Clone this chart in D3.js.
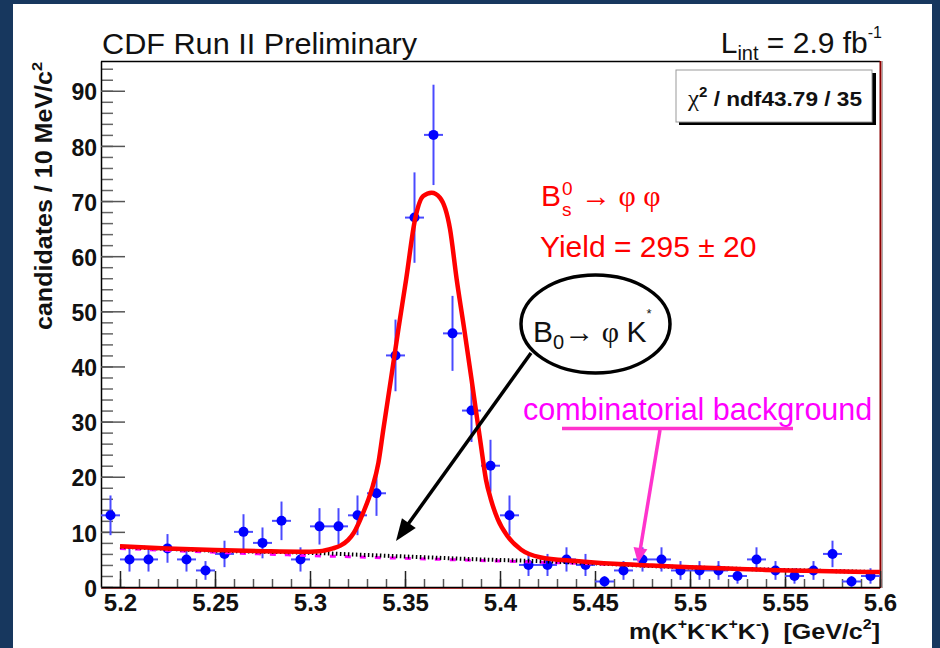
<!DOCTYPE html>
<html><head><meta charset="utf-8">
<script src="https://cdn.jsdelivr.net/npm/d3@7"></script>
<style>body{margin:0;background:#17375e;}svg{display:block}</style>
</head><body>
<svg id="c" width="940" height="648"></svg>
<script>
// ---------- data ----------
const binCenters = [5.195,5.205,5.215,5.225,5.235,5.245,5.255,5.265,5.275,5.285,
  5.295,5.305,5.315,5.325,5.335,5.345,5.355,5.365,5.375,5.385,
  5.395,5.405,5.415,5.425,5.435,5.445,5.455,5.465,5.475,5.485,
  5.495,5.505,5.515,5.525,5.535,5.545,5.555,5.565,5.575,5.585,5.595];
const counts = [13,5,5,7,5,3,6,10,8,12, 5,11,11,13,17,42,67,82,46,32,
  22,13,4,4,5,4,1,3,5,5, 3,3,3,2,5,3,2,3,6,1, 2];
const errors = [3.6,2.2,2.2,2.6,2.2,1.7,2.4,3.2,2.8,3.5, 2.2,3.3,3.3,3.6,4.1,6.5,8.2,9.1,6.8,5.7,
  4.7,3.6,2.0,2.0,2.2,2.0,1.0,1.7,2.2,2.2, 1.7,1.7,1.7,1.4,2.2,1.7,1.4,1.7,2.4,1.0, 1.4];
const binHalfWidth = 0.005;

// total fit (signal + background)
const fitMass  = [5.200,5.225,5.250,5.275,5.295,5.305,5.312,5.316,5.320,5.323,5.328,5.3325,5.336,5.3386,5.3426,5.3465,5.3506,5.3553,5.3596,5.364,5.3684,5.3737,5.3772,5.3812,5.385,5.3875,5.3900,5.3926,5.3952,5.3988,5.4040,5.4110,5.421,5.440,5.460,5.480,5.500,5.520,5.540,5.560,5.580,5.600];
const fitValue = [7.4,7.0,6.7,6.5,6.4,6.5,7.0,7.5,8.5,9.8,13.5,17.7,22.5,28.6,37.7,46.7,55.8,66.7,70.9,71.5,70.6,64.9,55.8,46.7,37.7,31.6,25.6,19.5,15.9,12.3,9.2,6.8,5.4,4.7,4.2,3.9,3.6,3.35,3.1,2.95,2.8,2.7];
// total background (combinatorial + B0 -> phi K* reflection), dotted
const bgMass  = [5.20,5.25,5.30,5.33,5.36,5.39,5.42,5.45,5.48,5.52,5.56,5.60];
const bgValue = [7.3,6.6,6.2,5.8,5.4,5.0,4.7,4.3,3.8,3.35,3.0,2.7];
// combinatorial background, dashed magenta
const combMass  = [5.20,5.25,5.30,5.35,5.40,5.45,5.50,5.55,5.60];
const combValue = [7.0,6.3,5.7,5.2,4.7,4.2,3.6,3.1,2.7];

const xTickValues = [5.2,5.25,5.3,5.35,5.4,5.45,5.5,5.55,5.6];
const xTickLabels = ["5.2","5.25","5.3","5.35","5.4","5.45","5.5","5.55","5.6"];
const yTickValues = [0,10,20,30,40,50,60,70,80,90];
const yTickLabels = ["0","10","20","30","40","50","60","70","80","90"];

// ---------- drawing ----------
const FONT = "'Liberation Sans', Arial, Helvetica, sans-serif";
const SERIF = "'Liberation Serif', 'DejaVu Serif', serif";
const svg = d3.select('#c');
svg.append('rect').attr('width',940).attr('height',648).attr('fill','#17375e');
svg.append('rect').attr('x',13).attr('y',4).attr('width',919).attr('height',644).attr('fill','#fff');

const m = {l:101, r:880, t:61, b:587};
const x = d3.scaleLinear().domain([5.19,5.60]).range([m.l,m.r]);
const y = d3.scaleLinear().domain([0,95.4]).range([m.b,m.t]);

// frame
svg.append('line').attr('x1',m.l).attr('x2',m.r).attr('y1',m.t+0.5).attr('y2',m.t+0.5).attr('stroke','#000').attr('stroke-width',1.5);
svg.append('line').attr('x1',m.r+0.5).attr('x2',m.r+0.5).attr('y1',m.t).attr('y2',m.b+1).attr('stroke','#8b0000').attr('stroke-width',2);
svg.append('line').attr('x1',m.r+2.5).attr('x2',m.r+2.5).attr('y1',m.t).attr('y2',m.b+1).attr('stroke','#aaa').attr('stroke-width',1);
svg.append('line').attr('x1',m.l).attr('x2',m.r).attr('y1',m.b+1.5).attr('y2',m.b+1.5).attr('stroke','#d04040').attr('stroke-width',1);

// y axis
const yMinor = svg.append('g').attr('transform',`translate(${m.l},0)`)
  .call(d3.axisLeft(y).tickValues(d3.range(0,95,2)).tickSize(-12).tickSizeOuter(0).tickFormat(''));
yMinor.select('.domain').remove();
yMinor.selectAll('line').attr('stroke','#666').attr('stroke-width',1.5);
const yAx = svg.append('g').attr('transform',`translate(${m.l},0)`)
  .call(d3.axisLeft(y).tickValues(yTickValues).tickSize(-24).tickSizeOuter(0).tickPadding(4)
    .tickFormat((d,i)=>yTickLabels[i]));
yAx.select('.domain').attr('stroke','#000').attr('stroke-width',1.5);
yAx.selectAll('line').attr('stroke','#555').attr('stroke-width',1.5);
yAx.selectAll('text').attr('font-family',FONT).attr('font-size',23).attr('font-weight','bold')
  .attr('fill','#111').attr('dy','0.4em');

// x axis
const xMinor = svg.append('g').attr('transform',`translate(0,${m.b})`)
  .call(d3.axisBottom(x).tickValues(d3.range(5.20,5.605,0.01)).tickSize(-8).tickSizeOuter(0).tickFormat(''));
xMinor.select('.domain').remove();
xMinor.selectAll('line').attr('stroke','#555').attr('stroke-width',1.5);
const xAx = svg.append('g').attr('transform',`translate(0,${m.b})`)
  .call(d3.axisBottom(x).tickValues(xTickValues).tickSize(-16).tickSizeOuter(0).tickPadding(7)
    .tickFormat((d,i)=>xTickLabels[i]));
xAx.select('.domain').attr('stroke','#000').attr('stroke-width',1.5);
xAx.selectAll('line').attr('stroke','#222').attr('stroke-width',1.5);
xAx.selectAll('text').attr('font-family',FONT).attr('font-size',24).attr('font-weight','bold').attr('fill','#111');

// axis titles
const xt = svg.append('text').attr('x',880).attr('y',639).attr('text-anchor','end')
  .attr('font-family',FONT).attr('font-size',22).attr('font-weight','bold').attr('fill','#111')
  .attr('textLength',251).attr('lengthAdjust','spacingAndGlyphs');
xt.append('tspan').text('m(K');
xt.append('tspan').attr('font-size',14).attr('dy',-10).text('+');
xt.append('tspan').attr('dy',10).text('K');
xt.append('tspan').attr('font-size',14).attr('dy',-10).text('-');
xt.append('tspan').attr('dy',10).text('K');
xt.append('tspan').attr('font-size',14).attr('dy',-10).text('+');
xt.append('tspan').attr('dy',10).text('K');
xt.append('tspan').attr('font-size',14).attr('dy',-10).text('-');
xt.append('tspan').attr('dy',10).text(')\u00a0\u00a0[GeV/c');
xt.append('tspan').attr('font-size',14).attr('dy',-10).text('2');
xt.append('tspan').attr('dy',10).text(']');

const yt = svg.append('text').attr('transform','translate(52,62) rotate(-90)').attr('text-anchor','end')
  .attr('font-family',FONT).attr('font-size',23).attr('font-weight','bold').attr('fill','#111')
  .attr('textLength',268).attr('lengthAdjust','spacingAndGlyphs');
yt.append('tspan').text('candidates / 10 MeV/c');
yt.append('tspan').attr('font-size',15).attr('dy',-10).text('2');

// data points
const pts = svg.append('g');
const data = binCenters.map((c,i)=>({c, n:counts[i], e:errors[i]}));
pts.selectAll('line.v').data(data).join('line').attr('class','v')
  .attr('x1',d=>x(d.c)).attr('x2',d=>x(d.c)).attr('y1',d=>y(d.n-d.e)).attr('y2',d=>y(d.n+d.e))
  .attr('stroke','#4a4aff').attr('stroke-width',2);
pts.selectAll('line.h').data(data).join('line').attr('class','h')
  .attr('x1',d=>x(d.c-binHalfWidth)).attr('x2',d=>x(d.c+binHalfWidth)).attr('y1',d=>y(d.n)).attr('y2',d=>y(d.n))
  .attr('stroke','#4a4aff').attr('stroke-width',2);
pts.selectAll('circle').data(data).join('circle')
  .attr('cx',d=>x(d.c)).attr('cy',d=>y(d.n)).attr('r',5).attr('fill','#0000ff');

// curves
const line = d3.line().x(d=>x(d[0])).y(d=>y(d[1])).curve(d3.curveMonotoneX);
svg.append('path').attr('d',line(combMass.map((v,i)=>[v,combValue[i]])))
  .attr('fill','none').attr('stroke','#ff00ff').attr('stroke-width',3).attr('stroke-dasharray','6,9');
svg.append('path').attr('d',line(bgMass.map((v,i)=>[v,bgValue[i]])))
  .attr('fill','none').attr('stroke','#000').attr('stroke-width',4).attr('stroke-dasharray','1.5,2.5');
svg.append('path').attr('d',line(fitMass.map((v,i)=>[v,fitValue[i]])))
  .attr('fill','none').attr('stroke','#ff0000').attr('stroke-width',4.5).attr('stroke-linejoin','round');

// title texts
svg.append('text').attr('x',102).attr('y',54).attr('font-family',FONT).attr('font-size',30).attr('fill','#111')
  .attr('textLength',315).attr('lengthAdjust','spacingAndGlyphs')
  .text('CDF Run II Preliminary');
const L = svg.append('text').attr('x',882).attr('y',53).attr('text-anchor','end')
  .attr('font-family',FONT).attr('font-size',30).attr('fill','#111');
L.append('tspan').text('L');
L.append('tspan').attr('font-size',20).attr('dy',7).text('int');
L.append('tspan').attr('dy',-7).text(' = 2.9 fb');
L.append('tspan').attr('font-size',16).attr('dy',-15).text('-1');

// stats box
svg.append('rect').attr('x',679).attr('y',73).attr('width',197).attr('height',52).attr('fill','#000');
svg.append('rect').attr('x',676).attr('y',70).attr('width',196).attr('height',52).attr('fill','#fff').attr('stroke','#999');
const st = svg.append('text').attr('x',688).attr('y',106).attr('font-family',FONT).attr('font-size',21)
  .attr('font-weight','bold').attr('fill','#111')
  .attr('textLength',174).attr('lengthAdjust','spacingAndGlyphs');
st.append('tspan').attr('font-family',SERIF).attr('font-weight','normal').attr('font-size',23).text('χ');
st.append('tspan').attr('font-size',14).attr('dy',-9).text('2');
st.append('tspan').attr('dy',9).text(' / ndf43.79 / 35');

// signal label
const RED = '#ff0000';
svg.append('text').attr('x',541).attr('y',206).attr('font-family',FONT).attr('font-size',30).attr('fill',RED).text('B');
svg.append('text').attr('x',562).attr('y',195).attr('font-family',FONT).attr('font-size',19).attr('fill',RED).text('0');
svg.append('text').attr('x',562).attr('y',216).attr('font-family',FONT).attr('font-size',19).attr('fill',RED).text('s');
svg.append('text').attr('x',581).attr('y',206).attr('font-family',SERIF).attr('font-size',30).attr('fill',RED).text('→ φ φ');
svg.append('text').attr('x',540).attr('y',257).attr('font-family',FONT).attr('font-size',30).attr('fill',RED).text('Yield = 295 ± 20');

// B0 -> phi K* annotation
svg.append('ellipse').attr('cx',595.5).attr('cy',324).attr('rx',74.5).attr('ry',49)
  .attr('fill','none').attr('stroke','#000').attr('stroke-width',3.5);
const bk = svg.append('text').attr('x',533).attr('y',342).attr('font-family',FONT).attr('font-size',30).attr('fill','#111');
bk.append('tspan').text('B');
bk.append('tspan').attr('font-size',20).attr('dy',7).text('0');
bk.append('tspan').attr('font-family',SERIF).attr('dy',-7).text('→ φ ');
bk.append('tspan').text('K');
bk.append('tspan').attr('font-size',13).attr('dy',-24).text('*');

function arrow(x1,y1,x2,y2,color,w,hl,hw){
  const dx=x2-x1, dy=y2-y1, len=Math.hypot(dx,dy), ux=dx/len, uy=dy/len;
  const bx=x2-ux*hl, by=y2-uy*hl;
  svg.append('line').attr('x1',x1).attr('y1',y1).attr('x2',bx+ux*2).attr('y2',by+uy*2)
    .attr('stroke',color).attr('stroke-width',w);
  svg.append('path').attr('d',`M${x2},${y2}L${bx-uy*hw/2},${by+ux*hw/2}L${bx+uy*hw/2},${by-ux*hw/2}Z`).attr('fill',color);
}
arrow(531,353,396,541,'#000',3.5,22,17);

// combinatorial background annotation
const PINK = '#ff33cc';
svg.append('text').attr('x',523).attr('y',420).attr('font-family',FONT).attr('font-size',30.5).attr('fill','#ff00ff')
  .text('combinatorial background');
svg.append('line').attr('x1',562).attr('x2',793).attr('y1',428.5).attr('y2',428.5).attr('stroke',PINK).attr('stroke-width',3.5);
arrow(660,430,638,563,PINK,3.5,15,14);
</script>
</body></html>
